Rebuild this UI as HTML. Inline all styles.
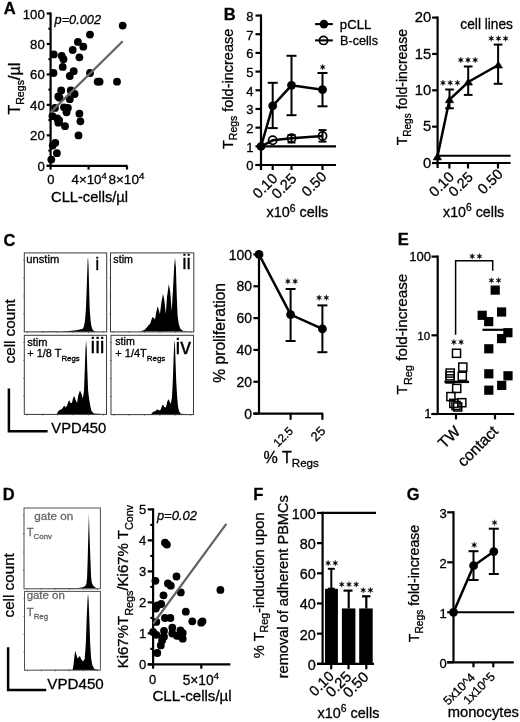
<!DOCTYPE html>
<html><head><meta charset="utf-8"><style>
html,body{margin:0;padding:0;background:#fff;width:520px;height:722px;overflow:hidden}
svg{display:block;will-change:transform}
text{font-family:"Liberation Sans",sans-serif}
</style></head><body>
<svg width="520" height="722" viewBox="0 0 520 722">
<line x1="50.60" y1="12.40" x2="50.60" y2="169.60" stroke="#000" stroke-width="2.2" />
<line x1="46.70" y1="165.80" x2="127.50" y2="165.80" stroke="#000" stroke-width="2.2" />
<line x1="46.70" y1="165.80" x2="50.60" y2="165.80" stroke="#000" stroke-width="2.2" />
<text id="A_y0" font-size="13.209" text-anchor="end" stroke="#000" stroke-width="0.3" transform="translate(44.79,170.80)">0</text>
<line x1="46.70" y1="135.34" x2="50.60" y2="135.34" stroke="#000" stroke-width="2.2" />
<text id="A_y20" font-size="13.209" text-anchor="end" stroke="#000" stroke-width="0.3" transform="translate(44.79,140.34)">20</text>
<line x1="46.70" y1="104.88" x2="50.60" y2="104.88" stroke="#000" stroke-width="2.2" />
<text id="A_y40" font-size="13.209" text-anchor="end" stroke="#000" stroke-width="0.3" transform="translate(44.79,109.88)">40</text>
<line x1="46.70" y1="74.42" x2="50.60" y2="74.42" stroke="#000" stroke-width="2.2" />
<text id="A_y60" font-size="13.209" text-anchor="end" stroke="#000" stroke-width="0.3" transform="translate(44.79,79.42)">60</text>
<line x1="46.70" y1="43.96" x2="50.60" y2="43.96" stroke="#000" stroke-width="2.2" />
<text id="A_y80" font-size="13.209" text-anchor="end" stroke="#000" stroke-width="0.3" transform="translate(44.79,48.96)">80</text>
<line x1="46.70" y1="13.50" x2="50.60" y2="13.50" stroke="#000" stroke-width="2.2" />
<text id="A_y100" font-size="13.209" text-anchor="end" stroke="#000" stroke-width="0.3" transform="translate(44.79,18.50)">100</text>
<line x1="48.40" y1="150.57" x2="50.60" y2="150.57" stroke="#000" stroke-width="2.2" />
<line x1="48.40" y1="120.11" x2="50.60" y2="120.11" stroke="#000" stroke-width="2.2" />
<line x1="48.40" y1="89.65" x2="50.60" y2="89.65" stroke="#000" stroke-width="2.2" />
<line x1="48.40" y1="59.19" x2="50.60" y2="59.19" stroke="#000" stroke-width="2.2" />
<line x1="48.40" y1="28.73" x2="50.60" y2="28.73" stroke="#000" stroke-width="2.2" />
<line x1="88.60" y1="165.80" x2="88.60" y2="169.60" stroke="#000" stroke-width="2.2" />
<line x1="127.00" y1="165.80" x2="127.00" y2="169.60" stroke="#000" stroke-width="2.2" />
<text id="A_x0" font-size="13.000" text-anchor="middle" stroke="#000" stroke-width="0.3" transform="translate(50.90,183.70)">0</text>
<text id="A_x4" font-size="13.285" text-anchor="middle" stroke="#000" stroke-width="0.3" transform="translate(89.17,184.23)">4×10<tspan font-size="0.72em" dy="-0.528em">4</tspan></text>
<text id="A_x8" font-size="13.578" text-anchor="middle" stroke="#000" stroke-width="0.3" transform="translate(126.40,184.18)">8×10<tspan font-size="0.72em" dy="-0.528em">4</tspan></text>
<text id="A_xt" font-size="14.681" text-anchor="middle" stroke="#000" stroke-width="0.3" transform="translate(89.54,201.65)">CLL-cells/µl</text>
<text id="A_yt" font-size="16.066" text-anchor="middle" stroke="#000" stroke-width="0.3" transform="translate(19.60,88.70) rotate(-90)">T<tspan font-size="0.66em" dy="0.455em">Regs</tspan><tspan dy="-0.300em">/µl</tspan></text>
<text id="A_p" font-size="12.757" text-anchor="start" font-style="italic" stroke="#000" stroke-width="0.3" transform="translate(54.54,23.76)">p=0.002</text>
<circle cx="122.70" cy="25.60" r="3.9" fill="#000" stroke="none" stroke-width="0"/>
<circle cx="90.00" cy="34.60" r="3.9" fill="#000" stroke="none" stroke-width="0"/>
<circle cx="77.90" cy="41.90" r="3.9" fill="#000" stroke="none" stroke-width="0"/>
<circle cx="83.30" cy="46.70" r="3.9" fill="#000" stroke="none" stroke-width="0"/>
<circle cx="72.70" cy="50.00" r="3.9" fill="#000" stroke="none" stroke-width="0"/>
<circle cx="79.40" cy="57.30" r="3.9" fill="#000" stroke="none" stroke-width="0"/>
<circle cx="53.80" cy="54.40" r="3.9" fill="#000" stroke="none" stroke-width="0"/>
<circle cx="61.70" cy="55.80" r="3.9" fill="#000" stroke="none" stroke-width="0"/>
<circle cx="63.50" cy="59.20" r="3.9" fill="#000" stroke="none" stroke-width="0"/>
<circle cx="62.70" cy="66.90" r="3.9" fill="#000" stroke="none" stroke-width="0"/>
<circle cx="53.50" cy="73.00" r="3.9" fill="#000" stroke="none" stroke-width="0"/>
<circle cx="73.70" cy="71.20" r="3.9" fill="#000" stroke="none" stroke-width="0"/>
<circle cx="69.80" cy="76.00" r="3.9" fill="#000" stroke="none" stroke-width="0"/>
<circle cx="90.00" cy="73.00" r="3.9" fill="#000" stroke="none" stroke-width="0"/>
<circle cx="97.70" cy="81.70" r="3.9" fill="#000" stroke="none" stroke-width="0"/>
<circle cx="99.60" cy="81.70" r="3.9" fill="#000" stroke="none" stroke-width="0"/>
<circle cx="117.00" cy="81.70" r="3.9" fill="#000" stroke="none" stroke-width="0"/>
<circle cx="61.20" cy="90.50" r="3.9" fill="#000" stroke="none" stroke-width="0"/>
<circle cx="70.80" cy="90.50" r="3.9" fill="#000" stroke="none" stroke-width="0"/>
<circle cx="58.30" cy="96.50" r="3.9" fill="#000" stroke="none" stroke-width="0"/>
<circle cx="74.60" cy="94.00" r="3.9" fill="#000" stroke="none" stroke-width="0"/>
<circle cx="59.50" cy="97.70" r="3.9" fill="#000" stroke="none" stroke-width="0"/>
<circle cx="69.80" cy="99.20" r="3.9" fill="#000" stroke="none" stroke-width="0"/>
<circle cx="55.00" cy="107.90" r="3.9" fill="#000" stroke="none" stroke-width="0"/>
<circle cx="64.00" cy="107.30" r="3.9" fill="#000" stroke="none" stroke-width="0"/>
<circle cx="67.90" cy="107.90" r="3.9" fill="#000" stroke="none" stroke-width="0"/>
<circle cx="66.50" cy="112.30" r="3.9" fill="#000" stroke="none" stroke-width="0"/>
<circle cx="52.50" cy="116.20" r="3.9" fill="#000" stroke="none" stroke-width="0"/>
<circle cx="57.30" cy="118.50" r="3.9" fill="#000" stroke="none" stroke-width="0"/>
<circle cx="59.20" cy="120.40" r="3.9" fill="#000" stroke="none" stroke-width="0"/>
<circle cx="58.30" cy="122.70" r="3.9" fill="#000" stroke="none" stroke-width="0"/>
<circle cx="65.00" cy="126.20" r="3.9" fill="#000" stroke="none" stroke-width="0"/>
<circle cx="79.40" cy="113.70" r="3.9" fill="#000" stroke="none" stroke-width="0"/>
<circle cx="80.40" cy="121.30" r="3.9" fill="#000" stroke="none" stroke-width="0"/>
<circle cx="78.50" cy="135.40" r="3.9" fill="#000" stroke="none" stroke-width="0"/>
<circle cx="55.30" cy="142.80" r="3.9" fill="#000" stroke="none" stroke-width="0"/>
<circle cx="52.70" cy="145.60" r="3.9" fill="#000" stroke="none" stroke-width="0"/>
<circle cx="56.90" cy="153.20" r="3.9" fill="#000" stroke="none" stroke-width="0"/>
<circle cx="51.30" cy="159.60" r="3.9" fill="#000" stroke="none" stroke-width="0"/>
<line x1="50.60" y1="112.40" x2="122.70" y2="41.30" stroke="#636363" stroke-width="2.2" />
<text id="A_lab" font-size="16.500" text-anchor="start" font-weight="bold" stroke="#000" stroke-width="0.3" transform="translate(3.66,13.84)">A</text>
<line x1="261.00" y1="14.46" x2="261.00" y2="170.00" stroke="#000" stroke-width="2.2" />
<line x1="255.50" y1="165.00" x2="336.00" y2="165.00" stroke="#000" stroke-width="2.2" />
<line x1="255.50" y1="165.00" x2="261.00" y2="165.00" stroke="#000" stroke-width="2.2" />
<text id="B_y0" font-size="13.000" text-anchor="end" stroke="#000" stroke-width="0.3" transform="translate(253.60,170.35)">0</text>
<line x1="255.50" y1="146.32" x2="261.00" y2="146.32" stroke="#000" stroke-width="2.2" />
<text id="B_y1" font-size="13.000" text-anchor="end" stroke="#000" stroke-width="0.3" transform="translate(253.60,151.67)">1</text>
<line x1="255.50" y1="127.64" x2="261.00" y2="127.64" stroke="#000" stroke-width="2.2" />
<text id="B_y2" font-size="13.000" text-anchor="end" stroke="#000" stroke-width="0.3" transform="translate(253.60,132.99)">2</text>
<line x1="255.50" y1="108.96" x2="261.00" y2="108.96" stroke="#000" stroke-width="2.2" />
<text id="B_y3" font-size="13.000" text-anchor="end" stroke="#000" stroke-width="0.3" transform="translate(253.60,114.31)">3</text>
<line x1="255.50" y1="90.28" x2="261.00" y2="90.28" stroke="#000" stroke-width="2.2" />
<text id="B_y4" font-size="13.000" text-anchor="end" stroke="#000" stroke-width="0.3" transform="translate(253.60,95.63)">4</text>
<line x1="255.50" y1="71.60" x2="261.00" y2="71.60" stroke="#000" stroke-width="2.2" />
<text id="B_y5" font-size="13.000" text-anchor="end" stroke="#000" stroke-width="0.3" transform="translate(253.60,76.95)">5</text>
<line x1="255.50" y1="52.92" x2="261.00" y2="52.92" stroke="#000" stroke-width="2.2" />
<text id="B_y6" font-size="13.000" text-anchor="end" stroke="#000" stroke-width="0.3" transform="translate(253.60,58.27)">6</text>
<line x1="255.50" y1="34.24" x2="261.00" y2="34.24" stroke="#000" stroke-width="2.2" />
<text id="B_y7" font-size="13.000" text-anchor="end" stroke="#000" stroke-width="0.3" transform="translate(253.60,39.59)">7</text>
<line x1="255.50" y1="15.56" x2="261.00" y2="15.56" stroke="#000" stroke-width="2.2" />
<text id="B_y8" font-size="13.000" text-anchor="end" stroke="#000" stroke-width="0.3" transform="translate(253.60,20.91)">8</text>
<line x1="272.70" y1="165.00" x2="272.70" y2="170.00" stroke="#000" stroke-width="2.2" />
<line x1="291.50" y1="165.00" x2="291.50" y2="170.00" stroke="#000" stroke-width="2.2" />
<line x1="322.50" y1="165.00" x2="322.50" y2="170.00" stroke="#000" stroke-width="2.2" />
<line x1="261.00" y1="146.32" x2="336.00" y2="146.32" stroke="#000" stroke-width="2.2" />
<text id="B_x0" font-size="14.470" text-anchor="end" stroke="#000" stroke-width="0.3" transform="translate(278.43,179.37) rotate(-45)">0.10</text>
<text id="B_x1" font-size="14.558" text-anchor="end" stroke="#000" stroke-width="0.3" transform="translate(297.44,179.62) rotate(-45)">0.25</text>
<text id="B_x2" font-size="14.500" text-anchor="end" stroke="#000" stroke-width="0.3" transform="translate(327.52,177.58) rotate(-45)">0.50</text>
<text id="B_xt" font-size="14.428" text-anchor="middle" stroke="#000" stroke-width="0.3" transform="translate(297.39,217.47)">x10<tspan font-size="0.72em" dy="-0.528em">6</tspan><tspan dy="0.38em"> cells</tspan></text>
<text id="B_yt" font-size="14.512" text-anchor="middle" stroke="#000" stroke-width="0.3" transform="translate(232.61,88.85) rotate(-90)">T<tspan font-size="0.72em" dy="0.417em">Regs</tspan><tspan dy="-0.300em"> fold-increase</tspan></text>
<line x1="272.70" y1="82.80" x2="272.70" y2="128.10" stroke="#000" stroke-width="2.0" />
<line x1="267.70" y1="82.80" x2="277.70" y2="82.80" stroke="#000" stroke-width="2.0" />
<line x1="267.70" y1="128.10" x2="277.70" y2="128.10" stroke="#000" stroke-width="2.0" />
<line x1="291.50" y1="55.80" x2="291.50" y2="115.20" stroke="#000" stroke-width="2.0" />
<line x1="286.50" y1="55.80" x2="296.50" y2="55.80" stroke="#000" stroke-width="2.0" />
<line x1="286.50" y1="115.20" x2="296.50" y2="115.20" stroke="#000" stroke-width="2.0" />
<line x1="322.50" y1="73.00" x2="322.50" y2="106.30" stroke="#000" stroke-width="2.0" />
<line x1="317.50" y1="73.00" x2="327.50" y2="73.00" stroke="#000" stroke-width="2.0" />
<line x1="317.50" y1="106.30" x2="327.50" y2="106.30" stroke="#000" stroke-width="2.0" />
<line x1="291.50" y1="135.00" x2="291.50" y2="142.50" stroke="#000" stroke-width="2.0" />
<line x1="287.50" y1="135.00" x2="295.50" y2="135.00" stroke="#000" stroke-width="2.0" />
<line x1="287.50" y1="142.50" x2="295.50" y2="142.50" stroke="#000" stroke-width="2.0" />
<line x1="322.50" y1="130.10" x2="322.50" y2="141.60" stroke="#000" stroke-width="2.0" />
<line x1="318.50" y1="130.10" x2="326.50" y2="130.10" stroke="#000" stroke-width="2.0" />
<line x1="318.50" y1="141.60" x2="326.50" y2="141.60" stroke="#000" stroke-width="2.0" />
<polyline points="261.00,146.50 272.70,140.30 291.50,138.30 322.50,136.00" stroke="#000" stroke-width="2.5" fill="none" stroke-linejoin="miter" />
<polyline points="261.00,146.50 272.70,105.80 291.50,85.30 322.50,89.70" stroke="#000" stroke-width="2.5" fill="none" stroke-linejoin="miter" />
<circle cx="272.70" cy="140.30" r="4.1" fill="none" stroke="#000" stroke-width="1.7"/>
<circle cx="291.50" cy="138.30" r="4.1" fill="none" stroke="#000" stroke-width="1.7"/>
<circle cx="322.50" cy="136.00" r="4.1" fill="none" stroke="#000" stroke-width="1.7"/>
<circle cx="261.00" cy="146.50" r="4.4" fill="#000" stroke="none" stroke-width="0"/>
<circle cx="272.70" cy="105.80" r="4.4" fill="#000" stroke="none" stroke-width="0"/>
<circle cx="291.50" cy="85.30" r="4.4" fill="#000" stroke="none" stroke-width="0"/>
<circle cx="322.50" cy="89.70" r="4.4" fill="#000" stroke="none" stroke-width="0"/>
<path d="M322.70,64.15 L323.22,66.19 L325.25,65.62 L323.75,67.10 L325.25,68.57 L323.22,68.01 L322.70,70.05 L322.18,68.01 L320.15,68.57 L321.65,67.10 L320.15,65.62 L322.18,66.19Z" fill="#000" stroke="#000" stroke-width="0.35" stroke-linejoin="round"/>
<line x1="315.10" y1="24.10" x2="332.80" y2="24.10" stroke="#000" stroke-width="2.1" />
<circle cx="323.90" cy="24.10" r="4.3" fill="#000" stroke="none" stroke-width="0"/>
<line x1="315.10" y1="40.40" x2="332.80" y2="40.40" stroke="#000" stroke-width="2.1" />
<circle cx="323.50" cy="40.40" r="4.1" fill="none" stroke="#000" stroke-width="1.7"/>
<text id="B_l1" font-size="13.118" text-anchor="start" stroke="#000" stroke-width="0.3" transform="translate(339.87,28.76)">pCLL</text>
<text id="B_l2" font-size="12.706" text-anchor="start" stroke="#000" stroke-width="0.3" transform="translate(339.94,45.19)">B-cells</text>
<text id="B_lab" font-size="16.500" text-anchor="start" font-weight="bold" stroke="#000" stroke-width="0.3" transform="translate(223.83,20.10)">B</text>
<line x1="437.60" y1="16.50" x2="437.60" y2="168.00" stroke="#000" stroke-width="2.2" />
<line x1="432.10" y1="163.00" x2="510.60" y2="163.00" stroke="#000" stroke-width="2.2" />
<line x1="432.10" y1="163.00" x2="437.60" y2="163.00" stroke="#000" stroke-width="2.2" />
<text id="B2_y0" font-size="14.771" text-anchor="end" stroke="#000" stroke-width="0.3" transform="translate(431.14,167.75)">0</text>
<line x1="432.10" y1="126.65" x2="437.60" y2="126.65" stroke="#000" stroke-width="2.2" />
<text id="B2_y5" font-size="14.771" text-anchor="end" stroke="#000" stroke-width="0.3" transform="translate(431.14,131.40)">5</text>
<line x1="432.10" y1="90.30" x2="437.60" y2="90.30" stroke="#000" stroke-width="2.2" />
<text id="B2_y10" font-size="14.771" text-anchor="end" stroke="#000" stroke-width="0.3" transform="translate(431.14,95.05)">10</text>
<line x1="432.10" y1="53.95" x2="437.60" y2="53.95" stroke="#000" stroke-width="2.2" />
<text id="B2_y15" font-size="14.771" text-anchor="end" stroke="#000" stroke-width="0.3" transform="translate(431.14,58.70)">15</text>
<line x1="432.10" y1="17.60" x2="437.60" y2="17.60" stroke="#000" stroke-width="2.2" />
<text id="B2_y20" font-size="14.771" text-anchor="end" stroke="#000" stroke-width="0.3" transform="translate(431.14,22.35)">20</text>
<line x1="449.40" y1="163.00" x2="449.40" y2="168.50" stroke="#000" stroke-width="2.2" />
<line x1="468.00" y1="163.00" x2="468.00" y2="168.50" stroke="#000" stroke-width="2.2" />
<line x1="498.00" y1="163.00" x2="498.00" y2="168.50" stroke="#000" stroke-width="2.2" />
<line x1="437.60" y1="155.73" x2="510.60" y2="155.73" stroke="#000" stroke-width="2.2" />
<text id="B2_x0" font-size="14.593" text-anchor="end" stroke="#000" stroke-width="0.3" transform="translate(455.04,177.73) rotate(-45)">0.10</text>
<text id="B2_x1" font-size="14.191" text-anchor="end" stroke="#000" stroke-width="0.3" transform="translate(473.83,178.03) rotate(-45)">0.25</text>
<text id="B2_x2" font-size="14.628" text-anchor="end" stroke="#000" stroke-width="0.3" transform="translate(503.67,174.99) rotate(-45)">0.50</text>
<text id="B2_xt" font-size="14.265" text-anchor="middle" stroke="#000" stroke-width="0.3" transform="translate(473.65,216.72)">x10<tspan font-size="0.72em" dy="-0.528em">6</tspan><tspan dy="0.38em"> cells</tspan></text>
<text id="B2_yt" font-size="14.034" text-anchor="middle" stroke="#000" stroke-width="0.3" transform="translate(406.55,87.20) rotate(-90)">T<tspan font-size="0.72em" dy="0.417em">Regs</tspan><tspan dy="-0.300em"> fold-increase</tspan></text>
<line x1="449.50" y1="89.50" x2="449.50" y2="108.30" stroke="#000" stroke-width="2.0" />
<line x1="445.15" y1="89.50" x2="453.85" y2="89.50" stroke="#000" stroke-width="2.0" />
<line x1="445.15" y1="108.30" x2="453.85" y2="108.30" stroke="#000" stroke-width="2.0" />
<line x1="468.20" y1="66.50" x2="468.20" y2="94.90" stroke="#000" stroke-width="2.0" />
<line x1="463.85" y1="66.50" x2="472.55" y2="66.50" stroke="#000" stroke-width="2.0" />
<line x1="463.85" y1="94.90" x2="472.55" y2="94.90" stroke="#000" stroke-width="2.0" />
<line x1="498.10" y1="44.60" x2="498.10" y2="83.80" stroke="#000" stroke-width="2.0" />
<line x1="493.75" y1="44.60" x2="502.45" y2="44.60" stroke="#000" stroke-width="2.0" />
<line x1="493.75" y1="83.80" x2="502.45" y2="83.80" stroke="#000" stroke-width="2.0" />
<polyline points="437.40,156.80 449.50,99.60 468.30,82.00 498.30,65.00" stroke="#000" stroke-width="2.5" fill="none" stroke-linejoin="miter" />
<polygon points="437.40,153.00 433.20,159.90 441.60,159.90" fill="#000" stroke="#000" stroke-width="0.6" stroke-linejoin="miter"/>
<polygon points="449.50,95.80 445.30,102.70 453.70,102.70" fill="#000" stroke="#000" stroke-width="0.6" stroke-linejoin="miter"/>
<polygon points="468.30,78.20 464.10,85.10 472.50,85.10" fill="#000" stroke="#000" stroke-width="0.6" stroke-linejoin="miter"/>
<polygon points="498.30,61.20 494.10,68.10 502.50,68.10" fill="#000" stroke="#000" stroke-width="0.6" stroke-linejoin="miter"/>
<path d="M443.00,79.85 L443.52,81.89 L445.55,81.33 L444.05,82.80 L445.55,84.27 L443.52,83.71 L443.00,85.75 L442.48,83.71 L440.45,84.27 L441.95,82.80 L440.45,81.33 L442.48,81.89ZM450.20,79.85 L450.72,81.89 L452.75,81.33 L451.25,82.80 L452.75,84.27 L450.72,83.71 L450.20,85.75 L449.68,83.71 L447.65,84.27 L449.15,82.80 L447.65,81.33 L449.68,81.89ZM457.40,79.85 L457.92,81.89 L459.95,81.33 L458.45,82.80 L459.95,84.27 L457.92,83.71 L457.40,85.75 L456.88,83.71 L454.85,84.27 L456.35,82.80 L454.85,81.33 L456.88,81.89Z" fill="#000" stroke="#000" stroke-width="0.35" stroke-linejoin="round"/>
<path d="M460.80,57.05 L461.32,59.09 L463.35,58.52 L461.85,60.00 L463.35,61.48 L461.32,60.91 L460.80,62.95 L460.28,60.91 L458.25,61.48 L459.75,60.00 L458.25,58.52 L460.28,59.09ZM468.00,57.05 L468.52,59.09 L470.55,58.52 L469.05,60.00 L470.55,61.48 L468.52,60.91 L468.00,62.95 L467.48,60.91 L465.45,61.48 L466.95,60.00 L465.45,58.52 L467.48,59.09ZM475.20,57.05 L475.72,59.09 L477.75,58.52 L476.25,60.00 L477.75,61.48 L475.72,60.91 L475.20,62.95 L474.68,60.91 L472.65,61.48 L474.15,60.00 L472.65,58.52 L474.68,59.09Z" fill="#000" stroke="#000" stroke-width="0.35" stroke-linejoin="round"/>
<path d="M491.20,35.55 L491.72,37.59 L493.75,37.02 L492.25,38.50 L493.75,39.98 L491.72,39.41 L491.20,41.45 L490.68,39.41 L488.65,39.98 L490.15,38.50 L488.65,37.02 L490.68,37.59ZM498.40,35.55 L498.92,37.59 L500.95,37.02 L499.45,38.50 L500.95,39.98 L498.92,39.41 L498.40,41.45 L497.88,39.41 L495.85,39.98 L497.35,38.50 L495.85,37.02 L497.88,37.59ZM505.60,35.55 L506.12,37.59 L508.15,37.02 L506.65,38.50 L508.15,39.98 L506.12,39.41 L505.60,41.45 L505.07,39.41 L503.05,39.98 L504.55,38.50 L503.05,37.02 L505.07,37.59Z" fill="#000" stroke="#000" stroke-width="0.35" stroke-linejoin="round"/>
<text id="B2_cl" font-size="13.710" text-anchor="start" stroke="#000" stroke-width="0.3" transform="translate(460.36,28.99)">cell lines</text>
<text id="C_lab" font-size="16.500" text-anchor="start" font-weight="bold" stroke="#000" stroke-width="0.3" transform="translate(3.46,246.16)">C</text>
<line x1="23.10" y1="313.95" x2="24.90" y2="313.95" stroke="#777" stroke-width="0.8" />
<line x1="23.10" y1="295.99" x2="24.90" y2="295.99" stroke="#777" stroke-width="0.8" />
<line x1="23.10" y1="278.04" x2="24.90" y2="278.04" stroke="#777" stroke-width="0.8" />
<line x1="23.10" y1="260.08" x2="24.90" y2="260.08" stroke="#777" stroke-width="0.8" />
<line x1="27.30" y1="331.40" x2="27.30" y2="333.10" stroke="#777" stroke-width="0.8" />
<line x1="42.58" y1="331.40" x2="42.58" y2="333.10" stroke="#777" stroke-width="0.8" />
<line x1="57.86" y1="331.40" x2="57.86" y2="333.10" stroke="#777" stroke-width="0.8" />
<line x1="73.14" y1="331.40" x2="73.14" y2="333.10" stroke="#777" stroke-width="0.8" />
<line x1="88.42" y1="331.40" x2="88.42" y2="333.10" stroke="#777" stroke-width="0.8" />
<line x1="103.70" y1="331.40" x2="103.70" y2="333.10" stroke="#777" stroke-width="0.8" />
<line x1="109.30" y1="313.95" x2="111.10" y2="313.95" stroke="#777" stroke-width="0.8" />
<line x1="109.30" y1="295.99" x2="111.10" y2="295.99" stroke="#777" stroke-width="0.8" />
<line x1="109.30" y1="278.04" x2="111.10" y2="278.04" stroke="#777" stroke-width="0.8" />
<line x1="109.30" y1="260.08" x2="111.10" y2="260.08" stroke="#777" stroke-width="0.8" />
<line x1="113.50" y1="331.40" x2="113.50" y2="333.10" stroke="#777" stroke-width="0.8" />
<line x1="128.96" y1="331.40" x2="128.96" y2="333.10" stroke="#777" stroke-width="0.8" />
<line x1="144.42" y1="331.40" x2="144.42" y2="333.10" stroke="#777" stroke-width="0.8" />
<line x1="159.88" y1="331.40" x2="159.88" y2="333.10" stroke="#777" stroke-width="0.8" />
<line x1="175.34" y1="331.40" x2="175.34" y2="333.10" stroke="#777" stroke-width="0.8" />
<line x1="190.80" y1="331.40" x2="190.80" y2="333.10" stroke="#777" stroke-width="0.8" />
<line x1="23.10" y1="396.42" x2="24.90" y2="396.42" stroke="#777" stroke-width="0.8" />
<line x1="23.10" y1="378.45" x2="24.90" y2="378.45" stroke="#777" stroke-width="0.8" />
<line x1="23.10" y1="360.47" x2="24.90" y2="360.47" stroke="#777" stroke-width="0.8" />
<line x1="23.10" y1="342.49" x2="24.90" y2="342.49" stroke="#777" stroke-width="0.8" />
<line x1="27.30" y1="413.90" x2="27.30" y2="415.60" stroke="#777" stroke-width="0.8" />
<line x1="42.54" y1="413.90" x2="42.54" y2="415.60" stroke="#777" stroke-width="0.8" />
<line x1="57.78" y1="413.90" x2="57.78" y2="415.60" stroke="#777" stroke-width="0.8" />
<line x1="73.02" y1="413.90" x2="73.02" y2="415.60" stroke="#777" stroke-width="0.8" />
<line x1="88.26" y1="413.90" x2="88.26" y2="415.60" stroke="#777" stroke-width="0.8" />
<line x1="103.50" y1="413.90" x2="103.50" y2="415.60" stroke="#777" stroke-width="0.8" />
<line x1="109.80" y1="396.58" x2="111.60" y2="396.58" stroke="#777" stroke-width="0.8" />
<line x1="109.80" y1="378.55" x2="111.60" y2="378.55" stroke="#777" stroke-width="0.8" />
<line x1="109.80" y1="360.53" x2="111.60" y2="360.53" stroke="#777" stroke-width="0.8" />
<line x1="109.80" y1="342.51" x2="111.60" y2="342.51" stroke="#777" stroke-width="0.8" />
<line x1="114.00" y1="414.10" x2="114.00" y2="415.80" stroke="#777" stroke-width="0.8" />
<line x1="129.30" y1="414.10" x2="129.30" y2="415.80" stroke="#777" stroke-width="0.8" />
<line x1="144.60" y1="414.10" x2="144.60" y2="415.80" stroke="#777" stroke-width="0.8" />
<line x1="159.90" y1="414.10" x2="159.90" y2="415.80" stroke="#777" stroke-width="0.8" />
<line x1="175.20" y1="414.10" x2="175.20" y2="415.80" stroke="#777" stroke-width="0.8" />
<line x1="190.50" y1="414.10" x2="190.50" y2="415.80" stroke="#777" stroke-width="0.8" />
<path d="M24.8,331.6 L55.0,331.9 L66.8,331.3 L76.2,330.3 L79.7,329.5 L82.7,328.7 L83.9,326.6 L85.0,320.7 L85.9,308.9 L86.6,291.2 L87.2,273.6 L87.7,258.8 L88.1,257.7 L88.6,267.7 L89.2,291.2 L89.7,308.9 L90.6,320.7 L91.5,326.6 L92.7,330.1 L95.0,331.6 L98.0,331.8 Z" fill="#000"/>
<path d="M111.0,331.6 L139.7,331.4 L144.4,330.0 L146.8,327.6 L148.5,325.3 L150.3,323.5 L151.5,319.4 L152.6,317.1 L154.2,318.2 L155.0,319.4 L156.2,312.4 L157.6,306.2 L159.1,311.2 L159.9,314.1 L161.5,301.8 L163.0,293.8 L164.4,300.6 L165.8,314.1 L167.0,297.1 L168.8,284.1 L170.3,292.4 L171.7,311.2 L172.9,291.2 L174.1,267.6 L175.0,257.6 L175.9,267.6 L176.8,297.1 L177.6,315.9 L178.8,324.1 L180.3,328.8 L183.2,330.9 L192.0,331.6 Z" fill="#000"/>
<path d="M24.8,414.2 L56.9,414.0 L58.3,411.1 L60.4,409.7 L62.1,408.8 L63.3,407.1 L64.1,405.6 L65.6,407.4 L67.1,405.4 L68.2,401.9 L69.3,400.2 L70.5,403.0 L71.9,403.0 L73.1,397.9 L74.2,395.9 L75.4,399.6 L77.1,403.0 L78.3,395.0 L80.0,390.4 L81.4,393.8 L82.9,398.4 L84.0,390.4 L84.8,369.6 L85.5,348.8 L86.1,340.8 L86.7,348.8 L87.3,369.6 L88.1,390.4 L89.2,399.6 L90.4,406.5 L91.5,411.1 L93.8,413.4 L105.4,414.2 Z" fill="#000"/>
<path d="M111.5,414.4 L150.9,414.4 L152.1,412.7 L153.8,411.5 L155.5,411.0 L157.5,409.2 L159.0,410.4 L160.7,409.8 L162.1,405.8 L163.0,404.6 L164.2,406.9 L165.9,407.5 L167.4,401.2 L168.5,399.2 L169.7,401.7 L170.8,404.0 L172.0,397.1 L172.8,381.0 L173.6,358.0 L174.2,344.2 L174.5,340.2 L174.9,344.2 L175.4,358.0 L176.2,381.0 L177.1,396.0 L178.0,406.3 L179.1,411.5 L180.9,413.8 L192.5,414.4 Z" fill="#000"/>
<rect x="24.30" y="252.90" width="82.40" height="79.00" fill="none" stroke="#3a3a3a" stroke-width="1.0"/>
<rect x="110.50" y="252.90" width="83.30" height="79.00" fill="none" stroke="#3a3a3a" stroke-width="1.0"/>
<rect x="24.30" y="335.30" width="82.20" height="79.10" fill="none" stroke="#3a3a3a" stroke-width="1.0"/>
<rect x="111.00" y="335.30" width="82.50" height="79.30" fill="none" stroke="#3a3a3a" stroke-width="1.0"/>
<text id="C_t1" font-size="11.235" text-anchor="start" stroke="#000" stroke-width="0.3" transform="translate(26.20,262.63)">unstim</text>
<text id="C_t2" font-size="10.695" text-anchor="start" stroke="#000" stroke-width="0.3" transform="translate(113.35,263.15)">stim</text>
<text id="C_t3" font-size="11.148" text-anchor="start" stroke="#000" stroke-width="0.3" transform="translate(27.19,345.79)">stim</text>
<text id="C_t3b" font-size="10.932" text-anchor="start" stroke="#000" stroke-width="0.3" transform="translate(27.28,356.75)">+ 1/8 T<tspan font-size="0.72em" dy="0.583em">Regs</tspan></text>
<text id="C_t4" font-size="10.664" text-anchor="start" stroke="#000" stroke-width="0.3" transform="translate(115.25,345.11)">stim</text>
<text id="C_t4b" font-size="11.023" text-anchor="start" stroke="#000" stroke-width="0.3" transform="translate(115.26,356.63)">+ 1/4T<tspan font-size="0.72em" dy="0.583em">Regs</tspan></text>
<text id="C_r1" font-size="18.000" text-anchor="middle" stroke="#000" stroke-width="0.3" transform="translate(97.15,269.50)">i</text>
<text id="C_r2" font-size="19.575" text-anchor="middle" stroke="#000" stroke-width="0.3" transform="translate(186.53,269.30)">ii</text>
<text id="C_r3" font-size="21.326" text-anchor="middle" stroke="#000" stroke-width="0.3" transform="translate(97.50,353.16)">iii</text>
<text id="C_r4" font-size="21.638" text-anchor="middle" stroke="#000" stroke-width="0.3" transform="translate(183.26,353.64)">iv</text>
<text id="C_cc" font-size="15.218" text-anchor="middle" stroke="#000" stroke-width="0.3" transform="translate(15.25,331.31) rotate(-90)">cell count</text>
<polyline points="8.90,388.40 8.90,431.20 47.60,431.20" stroke="#000" stroke-width="2.5" fill="none" stroke-linejoin="miter" />
<text id="C_vpd" font-size="14.774" text-anchor="start" stroke="#000" stroke-width="0.3" transform="translate(51.30,432.79)">VPD450</text>
<line x1="259.00" y1="253.35" x2="259.00" y2="413.60" stroke="#000" stroke-width="2.2" />
<line x1="253.40" y1="413.60" x2="323.20" y2="413.60" stroke="#000" stroke-width="2.2" />
<line x1="253.40" y1="413.60" x2="259.00" y2="413.60" stroke="#000" stroke-width="2.2" />
<text id="C_y0" font-size="13.937" text-anchor="end" stroke="#000" stroke-width="0.3" transform="translate(252.02,418.76)">0</text>
<line x1="253.40" y1="381.77" x2="259.00" y2="381.77" stroke="#000" stroke-width="2.2" />
<text id="C_y20" font-size="13.937" text-anchor="end" stroke="#000" stroke-width="0.3" transform="translate(252.02,386.93)">20</text>
<line x1="253.40" y1="349.94" x2="259.00" y2="349.94" stroke="#000" stroke-width="2.2" />
<text id="C_y40" font-size="13.937" text-anchor="end" stroke="#000" stroke-width="0.3" transform="translate(252.02,355.10)">40</text>
<line x1="253.40" y1="318.11" x2="259.00" y2="318.11" stroke="#000" stroke-width="2.2" />
<text id="C_y60" font-size="13.937" text-anchor="end" stroke="#000" stroke-width="0.3" transform="translate(252.02,323.27)">60</text>
<line x1="253.40" y1="286.28" x2="259.00" y2="286.28" stroke="#000" stroke-width="2.2" />
<text id="C_y80" font-size="13.937" text-anchor="end" stroke="#000" stroke-width="0.3" transform="translate(252.02,291.44)">80</text>
<line x1="253.40" y1="254.45" x2="259.00" y2="254.45" stroke="#000" stroke-width="2.2" />
<text id="C_y100" font-size="13.937" text-anchor="end" stroke="#000" stroke-width="0.3" transform="translate(252.02,259.61)">100</text>
<line x1="290.60" y1="413.60" x2="290.60" y2="419.80" stroke="#000" stroke-width="2.2" />
<line x1="322.40" y1="413.60" x2="322.40" y2="419.80" stroke="#000" stroke-width="2.2" />
<text id="C_x1" font-size="11.462" text-anchor="end" stroke="#000" stroke-width="0.3" transform="translate(293.81,431.83) rotate(-45)">12.5</text>
<text id="C_x2" font-size="12.907" text-anchor="end" stroke="#000" stroke-width="0.3" transform="translate(326.24,431.79) rotate(-45)">25</text>
<text id="C_xt" font-size="16.080" text-anchor="start" stroke="#000" stroke-width="0.3" transform="translate(263.54,462.56)">% T<tspan font-size="0.72em" dy="0.417em">Regs</tspan></text>
<text id="C_yt" font-size="15.609" text-anchor="middle" stroke="#000" stroke-width="0.3" transform="translate(225.35,332.80) rotate(-90)">% proliferation</text>
<line x1="290.60" y1="289.00" x2="290.60" y2="341.00" stroke="#000" stroke-width="2.0" />
<line x1="285.60" y1="289.00" x2="295.60" y2="289.00" stroke="#000" stroke-width="2.0" />
<line x1="285.60" y1="341.00" x2="295.60" y2="341.00" stroke="#000" stroke-width="2.0" />
<line x1="322.40" y1="305.40" x2="322.40" y2="352.20" stroke="#000" stroke-width="2.0" />
<line x1="317.40" y1="305.40" x2="327.40" y2="305.40" stroke="#000" stroke-width="2.0" />
<line x1="317.40" y1="352.20" x2="327.40" y2="352.20" stroke="#000" stroke-width="2.0" />
<polyline points="259.00,254.40 290.60,314.60 322.40,328.90" stroke="#000" stroke-width="2.5" fill="none" stroke-linejoin="miter" />
<circle cx="259.00" cy="254.40" r="4.4" fill="#000" stroke="none" stroke-width="0"/>
<circle cx="290.60" cy="314.60" r="4.4" fill="#000" stroke="none" stroke-width="0"/>
<circle cx="322.40" cy="328.90" r="4.4" fill="#000" stroke="none" stroke-width="0"/>
<path d="M287.90,278.35 L288.42,280.39 L290.45,279.82 L288.95,281.30 L290.45,282.78 L288.42,282.21 L287.90,284.25 L287.38,282.21 L285.35,282.78 L286.85,281.30 L285.35,279.82 L287.38,280.39ZM295.10,278.35 L295.62,280.39 L297.65,279.82 L296.15,281.30 L297.65,282.78 L295.62,282.21 L295.10,284.25 L294.58,282.21 L292.55,282.78 L294.05,281.30 L292.55,279.82 L294.58,280.39Z" fill="#000" stroke="#000" stroke-width="0.35" stroke-linejoin="round"/>
<path d="M319.10,294.75 L319.62,296.79 L321.65,296.22 L320.15,297.70 L321.65,299.18 L319.62,298.61 L319.10,300.65 L318.57,298.61 L316.55,299.18 L318.05,297.70 L316.55,296.22 L318.57,296.79ZM326.30,294.75 L326.82,296.79 L328.85,296.22 L327.35,297.70 L328.85,299.18 L326.82,298.61 L326.30,300.65 L325.78,298.61 L323.75,299.18 L325.25,297.70 L323.75,296.22 L325.78,296.79Z" fill="#000" stroke="#000" stroke-width="0.35" stroke-linejoin="round"/>
<line x1="437.70" y1="255.50" x2="437.70" y2="414.00" stroke="#000" stroke-width="2.2" />
<line x1="431.50" y1="414.00" x2="514.20" y2="414.00" stroke="#000" stroke-width="2.2" />
<line x1="431.50" y1="414.00" x2="437.70" y2="414.00" stroke="#000" stroke-width="2.2" />
<line x1="431.50" y1="335.30" x2="437.70" y2="335.30" stroke="#000" stroke-width="2.2" />
<line x1="431.50" y1="256.60" x2="437.70" y2="256.60" stroke="#000" stroke-width="2.2" />
<text id="E_y100" font-size="13.058" text-anchor="end" stroke="#000" stroke-width="0.3" transform="translate(431.14,261.07)">100</text>
<text id="E_y10" font-size="11.604" text-anchor="end" stroke="#000" stroke-width="0.3" transform="translate(430.12,339.65)">10</text>
<text id="E_y1" font-size="13.000" text-anchor="end" stroke="#000" stroke-width="0.3" transform="translate(431.51,417.95)">1</text>
<line x1="456.00" y1="414.00" x2="456.00" y2="419.40" stroke="#000" stroke-width="2.2" />
<line x1="495.00" y1="414.00" x2="495.00" y2="419.40" stroke="#000" stroke-width="2.2" />
<text id="E_x1" font-size="15.333" text-anchor="end" stroke="#000" stroke-width="0.3" transform="translate(461.19,432.42) rotate(-45)">TW</text>
<text id="E_x2" font-size="15.511" text-anchor="end" stroke="#000" stroke-width="0.3" transform="translate(499.17,432.13) rotate(-45)">contact</text>
<text id="E_lab" font-size="16.500" text-anchor="start" font-weight="bold" stroke="#000" stroke-width="0.3" transform="translate(397.69,244.98)">E</text>
<text id="E_yt" font-size="15.220" text-anchor="middle" stroke="#000" stroke-width="0.3" transform="translate(407.33,334.05) rotate(-90)">T<tspan font-size="0.72em" dy="0.417em">Reg</tspan><tspan dy="-0.300em"> fold-increase</tspan></text>
<polyline points="455.60,334.80 455.60,260.80 492.70,260.80 492.70,270.80" stroke="#000" stroke-width="1.5" fill="none" stroke-linejoin="miter" />
<path d="M472.20,253.35 L472.72,255.39 L474.75,254.83 L473.25,256.30 L474.75,257.78 L472.72,257.21 L472.20,259.25 L471.68,257.21 L469.65,257.78 L471.15,256.30 L469.65,254.83 L471.68,255.39ZM479.40,253.35 L479.93,255.39 L481.95,254.83 L480.45,256.30 L481.95,257.78 L479.93,257.21 L479.40,259.25 L478.88,257.21 L476.85,257.78 L478.35,256.30 L476.85,254.83 L478.88,255.39Z" fill="#000" stroke="#000" stroke-width="0.35" stroke-linejoin="round"/>
<path d="M491.40,277.45 L491.92,279.49 L493.95,278.92 L492.45,280.40 L493.95,281.88 L491.92,281.31 L491.40,283.35 L490.88,281.31 L488.85,281.88 L490.35,280.40 L488.85,278.92 L490.88,279.49ZM498.60,277.45 L499.12,279.49 L501.15,278.92 L499.65,280.40 L501.15,281.88 L499.12,281.31 L498.60,283.35 L498.08,281.31 L496.05,281.88 L497.55,280.40 L496.05,278.92 L498.08,279.49Z" fill="#000" stroke="#000" stroke-width="0.35" stroke-linejoin="round"/>
<path d="M453.90,339.15 L454.42,341.19 L456.45,340.62 L454.95,342.10 L456.45,343.58 L454.42,343.01 L453.90,345.05 L453.38,343.01 L451.35,343.58 L452.85,342.10 L451.35,340.62 L453.38,341.19ZM461.10,339.15 L461.62,341.19 L463.65,340.62 L462.15,342.10 L463.65,343.58 L461.62,343.01 L461.10,345.05 L460.58,343.01 L458.55,343.58 L460.05,342.10 L458.55,340.62 L460.58,341.19Z" fill="#000" stroke="#000" stroke-width="0.35" stroke-linejoin="round"/>
<rect x="452.45" y="349.25" width="8.10" height="8.10" fill="none" stroke="#000" stroke-width="1.5"/>
<rect x="458.75" y="363.05" width="8.10" height="8.10" fill="none" stroke="#000" stroke-width="1.5"/>
<rect x="458.25" y="372.25" width="8.10" height="8.10" fill="none" stroke="#000" stroke-width="1.5"/>
<rect x="446.15" y="369.05" width="8.10" height="8.10" fill="none" stroke="#000" stroke-width="1.5"/>
<rect x="446.15" y="371.75" width="8.10" height="8.10" fill="none" stroke="#000" stroke-width="1.5"/>
<rect x="446.15" y="374.85" width="8.10" height="8.10" fill="none" stroke="#000" stroke-width="1.5"/>
<rect x="452.65" y="384.35" width="8.10" height="8.10" fill="none" stroke="#000" stroke-width="1.5"/>
<rect x="446.85" y="392.55" width="8.10" height="8.10" fill="none" stroke="#000" stroke-width="1.5"/>
<rect x="449.75" y="399.35" width="8.10" height="8.10" fill="none" stroke="#000" stroke-width="1.5"/>
<rect x="457.75" y="398.65" width="8.10" height="8.10" fill="none" stroke="#000" stroke-width="1.5"/>
<rect x="453.65" y="402.95" width="8.10" height="8.10" fill="none" stroke="#000" stroke-width="1.5"/>
<rect x="451.95" y="401.45" width="8.10" height="8.10" fill="none" stroke="#000" stroke-width="1.5"/>
<line x1="444.40" y1="381.90" x2="469.10" y2="381.90" stroke="#000" stroke-width="2.4" />
<rect x="490.60" y="285.50" width="9.2" height="9.2" fill="#000"/>
<rect x="497.00" y="307.40" width="9.2" height="9.2" fill="#000"/>
<rect x="477.60" y="310.70" width="9.2" height="9.2" fill="#000"/>
<rect x="484.10" y="317.00" width="9.2" height="9.2" fill="#000"/>
<rect x="503.30" y="328.10" width="9.2" height="9.2" fill="#000"/>
<rect x="497.00" y="334.00" width="9.2" height="9.2" fill="#000"/>
<rect x="484.20" y="344.20" width="9.2" height="9.2" fill="#000"/>
<rect x="484.20" y="369.20" width="9.2" height="9.2" fill="#000"/>
<rect x="503.40" y="371.20" width="9.2" height="9.2" fill="#000"/>
<rect x="497.10" y="380.80" width="9.2" height="9.2" fill="#000"/>
<rect x="484.20" y="385.60" width="9.2" height="9.2" fill="#000"/>
<line x1="482.50" y1="329.80" x2="504.60" y2="329.80" stroke="#000" stroke-width="2.2" />
<text id="D_lab" font-size="16.500" text-anchor="start" font-weight="bold" stroke="#000" stroke-width="0.3" transform="translate(2.74,500.43)">D</text>
<line x1="22.80" y1="570.44" x2="24.60" y2="570.44" stroke="#777" stroke-width="0.8" />
<line x1="22.80" y1="552.07" x2="24.60" y2="552.07" stroke="#777" stroke-width="0.8" />
<line x1="22.80" y1="533.71" x2="24.60" y2="533.71" stroke="#777" stroke-width="0.8" />
<line x1="22.80" y1="515.35" x2="24.60" y2="515.35" stroke="#777" stroke-width="0.8" />
<line x1="27.00" y1="588.30" x2="27.00" y2="590.00" stroke="#777" stroke-width="0.8" />
<line x1="41.08" y1="588.30" x2="41.08" y2="590.00" stroke="#777" stroke-width="0.8" />
<line x1="55.16" y1="588.30" x2="55.16" y2="590.00" stroke="#777" stroke-width="0.8" />
<line x1="69.24" y1="588.30" x2="69.24" y2="590.00" stroke="#777" stroke-width="0.8" />
<line x1="83.32" y1="588.30" x2="83.32" y2="590.00" stroke="#777" stroke-width="0.8" />
<line x1="97.40" y1="588.30" x2="97.40" y2="590.00" stroke="#777" stroke-width="0.8" />
<line x1="23.30" y1="652.29" x2="25.10" y2="652.29" stroke="#777" stroke-width="0.8" />
<line x1="23.30" y1="634.38" x2="25.10" y2="634.38" stroke="#777" stroke-width="0.8" />
<line x1="23.30" y1="616.47" x2="25.10" y2="616.47" stroke="#777" stroke-width="0.8" />
<line x1="23.30" y1="598.56" x2="25.10" y2="598.56" stroke="#777" stroke-width="0.8" />
<line x1="27.50" y1="669.70" x2="27.50" y2="671.40" stroke="#777" stroke-width="0.8" />
<line x1="41.48" y1="669.70" x2="41.48" y2="671.40" stroke="#777" stroke-width="0.8" />
<line x1="55.46" y1="669.70" x2="55.46" y2="671.40" stroke="#777" stroke-width="0.8" />
<line x1="69.44" y1="669.70" x2="69.44" y2="671.40" stroke="#777" stroke-width="0.8" />
<line x1="83.42" y1="669.70" x2="83.42" y2="671.40" stroke="#777" stroke-width="0.8" />
<line x1="97.40" y1="669.70" x2="97.40" y2="671.40" stroke="#777" stroke-width="0.8" />
<path d="M24.5,588.4 L72.0,588.1 L78.1,587.9 L82.9,587.2 L85.3,586.0 L86.5,583.3 L87.1,577.3 L87.7,559.2 L88.3,535.1 L88.9,513.4 L89.5,535.1 L90.4,559.2 L91.1,577.3 L91.9,583.3 L93.7,586.3 L96.1,587.9 L98.6,588.4 Z" fill="#000"/>
<path d="M25.0,669.9 L72.7,669.7 L73.5,665.1 L74.5,655.5 L75.4,650.7 L76.3,654.3 L77.5,658.5 L78.7,657.3 L79.9,656.1 L81.1,659.1 L82.9,661.5 L84.7,659.1 L85.9,642.2 L86.7,618.1 L87.5,600.0 L88.0,593.4 L88.6,600.0 L89.3,618.1 L90.1,642.2 L91.1,657.9 L92.3,665.1 L94.3,669.0 L99.5,669.9 Z" fill="#000"/>
<rect x="24.00" y="508.00" width="76.40" height="80.80" fill="none" stroke="#505050" stroke-width="1.0"/>
<rect x="24.50" y="591.40" width="75.90" height="78.80" fill="none" stroke="#505050" stroke-width="1.0"/>
<text id="D_g1" font-size="11.696" text-anchor="start" fill="#666" stroke="#666" stroke-width="0.3" transform="translate(34.30,519.84)">gate on</text>
<text id="D_t1" font-size="11.278" text-anchor="start" fill="#666" stroke="#666" stroke-width="0.3" transform="translate(26.67,536.41)">T<tspan font-size="0.7em" dy="0.286em">Conv</tspan></text>
<text id="D_g2" font-size="11.450" text-anchor="start" fill="#666" stroke="#666" stroke-width="0.3" transform="translate(26.65,598.59)">gate on</text>
<text id="D_t2" font-size="11.233" text-anchor="start" fill="#666" stroke="#666" stroke-width="0.3" transform="translate(26.78,616.32)">T<tspan font-size="0.7em" dy="0.286em">Reg</tspan></text>
<text id="D_cc" font-size="15.225" text-anchor="middle" stroke="#000" stroke-width="0.3" transform="translate(13.85,585.32) rotate(-90)">cell count</text>
<polyline points="8.10,647.20 8.10,690.00 46.20,690.00" stroke="#000" stroke-width="2.5" fill="none" stroke-linejoin="miter" />
<text id="D_vpd" font-size="15.189" text-anchor="start" stroke="#000" stroke-width="0.3" transform="translate(47.30,688.55)">VPD450</text>
<line x1="153.10" y1="508.30" x2="153.10" y2="668.70" stroke="#000" stroke-width="2.2" />
<line x1="147.70" y1="664.40" x2="230.40" y2="664.40" stroke="#000" stroke-width="2.2" />
<line x1="147.70" y1="664.40" x2="153.10" y2="664.40" stroke="#000" stroke-width="2.2" />
<text id="D_y0" font-size="13.000" text-anchor="end" stroke="#000" stroke-width="0.3" transform="translate(146.30,669.05)">0</text>
<line x1="147.70" y1="633.40" x2="153.10" y2="633.40" stroke="#000" stroke-width="2.2" />
<text id="D_y1" font-size="13.000" text-anchor="end" stroke="#000" stroke-width="0.3" transform="translate(146.30,638.05)">1</text>
<line x1="147.70" y1="602.40" x2="153.10" y2="602.40" stroke="#000" stroke-width="2.2" />
<text id="D_y2" font-size="13.000" text-anchor="end" stroke="#000" stroke-width="0.3" transform="translate(146.30,607.05)">2</text>
<line x1="147.70" y1="571.40" x2="153.10" y2="571.40" stroke="#000" stroke-width="2.2" />
<text id="D_y3" font-size="13.000" text-anchor="end" stroke="#000" stroke-width="0.3" transform="translate(146.30,576.05)">3</text>
<line x1="147.70" y1="540.40" x2="153.10" y2="540.40" stroke="#000" stroke-width="2.2" />
<text id="D_y4" font-size="13.000" text-anchor="end" stroke="#000" stroke-width="0.3" transform="translate(146.30,545.05)">4</text>
<line x1="147.70" y1="509.40" x2="153.10" y2="509.40" stroke="#000" stroke-width="2.2" />
<text id="D_y5" font-size="13.000" text-anchor="end" stroke="#000" stroke-width="0.3" transform="translate(146.30,514.05)">5</text>
<line x1="150.30" y1="648.90" x2="153.10" y2="648.90" stroke="#000" stroke-width="2.2" />
<line x1="150.30" y1="617.90" x2="153.10" y2="617.90" stroke="#000" stroke-width="2.2" />
<line x1="150.30" y1="586.90" x2="153.10" y2="586.90" stroke="#000" stroke-width="2.2" />
<line x1="150.30" y1="555.90" x2="153.10" y2="555.90" stroke="#000" stroke-width="2.2" />
<line x1="150.30" y1="524.90" x2="153.10" y2="524.90" stroke="#000" stroke-width="2.2" />
<line x1="201.30" y1="664.40" x2="201.30" y2="668.70" stroke="#000" stroke-width="2.2" />
<text id="D_x0" font-size="13.000" text-anchor="middle" stroke="#000" stroke-width="0.3" transform="translate(152.70,684.09)">0</text>
<text id="D_x5" font-size="13.738" text-anchor="middle" stroke="#000" stroke-width="0.3" transform="translate(200.88,684.61)">5×10<tspan font-size="0.72em" dy="-0.528em">4</tspan></text>
<text id="D_xt" font-size="15.113" text-anchor="middle" stroke="#000" stroke-width="0.3" transform="translate(192.05,700.79)">CLL-cells/µl</text>
<text id="D_yt" font-size="15.013" text-anchor="middle" stroke="#000" stroke-width="0.3" transform="translate(128.24,586.56) rotate(-90)">Ki67%T<tspan font-size="0.72em" dy="0.417em">Regs</tspan><tspan dy="-0.300em">/Ki67% T</tspan><tspan font-size="0.72em" dy="0.417em">Conv</tspan></text>
<text id="D_p" font-size="12.978" text-anchor="start" font-style="italic" stroke="#000" stroke-width="0.3" transform="translate(156.89,519.90)">p=0.02</text>
<circle cx="165.00" cy="542.70" r="3.9" fill="#000" stroke="none" stroke-width="0"/>
<circle cx="166.90" cy="544.60" r="3.9" fill="#000" stroke="none" stroke-width="0"/>
<circle cx="155.40" cy="580.80" r="3.9" fill="#000" stroke="none" stroke-width="0"/>
<circle cx="176.50" cy="576.50" r="3.9" fill="#000" stroke="none" stroke-width="0"/>
<circle cx="167.90" cy="583.50" r="3.9" fill="#000" stroke="none" stroke-width="0"/>
<circle cx="170.80" cy="585.70" r="3.9" fill="#000" stroke="none" stroke-width="0"/>
<circle cx="180.80" cy="592.40" r="3.9" fill="#000" stroke="none" stroke-width="0"/>
<circle cx="163.50" cy="595.30" r="3.9" fill="#000" stroke="none" stroke-width="0"/>
<circle cx="220.40" cy="589.90" r="3.9" fill="#000" stroke="none" stroke-width="0"/>
<circle cx="161.20" cy="604.00" r="3.9" fill="#000" stroke="none" stroke-width="0"/>
<circle cx="157.30" cy="605.40" r="3.9" fill="#000" stroke="none" stroke-width="0"/>
<circle cx="155.80" cy="608.50" r="3.9" fill="#000" stroke="none" stroke-width="0"/>
<circle cx="185.80" cy="611.70" r="3.9" fill="#000" stroke="none" stroke-width="0"/>
<circle cx="165.00" cy="618.00" r="3.9" fill="#000" stroke="none" stroke-width="0"/>
<circle cx="170.40" cy="618.00" r="3.9" fill="#000" stroke="none" stroke-width="0"/>
<circle cx="156.30" cy="621.90" r="3.9" fill="#000" stroke="none" stroke-width="0"/>
<circle cx="192.30" cy="621.30" r="3.9" fill="#000" stroke="none" stroke-width="0"/>
<circle cx="201.20" cy="622.70" r="3.9" fill="#000" stroke="none" stroke-width="0"/>
<circle cx="202.50" cy="621.30" r="3.9" fill="#000" stroke="none" stroke-width="0"/>
<circle cx="172.30" cy="627.70" r="3.9" fill="#000" stroke="none" stroke-width="0"/>
<circle cx="180.40" cy="630.40" r="3.9" fill="#000" stroke="none" stroke-width="0"/>
<circle cx="164.00" cy="631.00" r="3.9" fill="#000" stroke="none" stroke-width="0"/>
<circle cx="153.10" cy="632.00" r="3.9" fill="#000" stroke="none" stroke-width="0"/>
<circle cx="172.30" cy="633.50" r="3.9" fill="#000" stroke="none" stroke-width="0"/>
<circle cx="182.70" cy="632.90" r="3.9" fill="#000" stroke="none" stroke-width="0"/>
<circle cx="156.30" cy="634.80" r="3.9" fill="#000" stroke="none" stroke-width="0"/>
<circle cx="176.90" cy="635.80" r="3.9" fill="#000" stroke="none" stroke-width="0"/>
<circle cx="164.00" cy="636.70" r="3.9" fill="#000" stroke="none" stroke-width="0"/>
<circle cx="179.40" cy="635.80" r="3.9" fill="#000" stroke="none" stroke-width="0"/>
<circle cx="182.70" cy="638.70" r="3.9" fill="#000" stroke="none" stroke-width="0"/>
<circle cx="162.10" cy="640.60" r="3.9" fill="#000" stroke="none" stroke-width="0"/>
<circle cx="160.80" cy="645.40" r="3.9" fill="#000" stroke="none" stroke-width="0"/>
<circle cx="157.30" cy="653.00" r="3.9" fill="#000" stroke="none" stroke-width="0"/>
<circle cx="162.70" cy="637.70" r="3.9" fill="#000" stroke="none" stroke-width="0"/>
<line x1="153.30" y1="623.50" x2="226.30" y2="523.80" stroke="#636363" stroke-width="2.2" />
<text id="F_lab" font-size="16.500" text-anchor="start" font-weight="bold" stroke="#000" stroke-width="0.3" transform="translate(253.21,500.35)">F</text>
<rect x="325" y="588.83" width="12.90" height="74.97" fill="#000"/>
<rect x="341.9" y="608.44" width="13.50" height="55.36" fill="#000"/>
<rect x="359.2" y="608.44" width="13.50" height="55.36" fill="#000"/>
<line x1="322.60" y1="511.85" x2="322.60" y2="663.80" stroke="#000" stroke-width="2.2" />
<line x1="321.50" y1="512.95" x2="376.00" y2="512.95" stroke="#000" stroke-width="2.2" />
<line x1="317.00" y1="663.80" x2="374.00" y2="663.80" stroke="#000" stroke-width="2.2" />
<line x1="317.00" y1="663.80" x2="322.60" y2="663.80" stroke="#000" stroke-width="2.2" />
<text id="F_y0" font-size="14.455" text-anchor="end" stroke="#000" stroke-width="0.3" transform="translate(315.75,669.78)">0</text>
<line x1="317.00" y1="633.63" x2="322.60" y2="633.63" stroke="#000" stroke-width="2.2" />
<text id="F_y20" font-size="14.455" text-anchor="end" stroke="#000" stroke-width="0.3" transform="translate(315.75,639.61)">20</text>
<line x1="317.00" y1="603.46" x2="322.60" y2="603.46" stroke="#000" stroke-width="2.2" />
<text id="F_y40" font-size="14.455" text-anchor="end" stroke="#000" stroke-width="0.3" transform="translate(315.75,609.44)">40</text>
<line x1="317.00" y1="573.29" x2="322.60" y2="573.29" stroke="#000" stroke-width="2.2" />
<text id="F_y60" font-size="14.455" text-anchor="end" stroke="#000" stroke-width="0.3" transform="translate(315.75,579.27)">60</text>
<line x1="317.00" y1="543.12" x2="322.60" y2="543.12" stroke="#000" stroke-width="2.2" />
<text id="F_y80" font-size="14.455" text-anchor="end" stroke="#000" stroke-width="0.3" transform="translate(315.75,549.10)">80</text>
<line x1="317.00" y1="512.95" x2="322.60" y2="512.95" stroke="#000" stroke-width="2.2" />
<text id="F_y100" font-size="14.455" text-anchor="end" stroke="#000" stroke-width="0.3" transform="translate(315.75,518.93)">100</text>
<line x1="331.20" y1="663.80" x2="331.20" y2="669.30" stroke="#000" stroke-width="2.2" />
<line x1="348.50" y1="663.80" x2="348.50" y2="669.30" stroke="#000" stroke-width="2.2" />
<line x1="366.30" y1="663.80" x2="366.30" y2="669.30" stroke="#000" stroke-width="2.2" />
<line x1="331.30" y1="568.80" x2="331.30" y2="588.70" stroke="#000" stroke-width="2.0" />
<line x1="327.80" y1="568.80" x2="334.80" y2="568.80" stroke="#000" stroke-width="2.0" />
<line x1="327.80" y1="588.70" x2="334.80" y2="588.70" stroke="#000" stroke-width="2.0" />
<line x1="348.70" y1="590.60" x2="348.70" y2="608.50" stroke="#000" stroke-width="2.2" />
<line x1="343.50" y1="590.60" x2="352.50" y2="590.60" stroke="#000" stroke-width="2.2" />
<line x1="366.30" y1="596.30" x2="366.30" y2="608.50" stroke="#000" stroke-width="2.2" />
<line x1="362.00" y1="596.30" x2="370.50" y2="596.30" stroke="#000" stroke-width="2.2" />
<path d="M328.10,560.15 L328.62,562.19 L330.65,561.62 L329.15,563.10 L330.65,564.58 L328.62,564.01 L328.10,566.05 L327.57,564.01 L325.55,564.58 L327.05,563.10 L325.55,561.62 L327.57,562.19ZM335.30,560.15 L335.82,562.19 L337.85,561.62 L336.35,563.10 L337.85,564.58 L335.82,564.01 L335.30,566.05 L334.78,564.01 L332.75,564.58 L334.25,563.10 L332.75,561.62 L334.78,562.19Z" fill="#000" stroke="#000" stroke-width="0.35" stroke-linejoin="round"/>
<path d="M341.80,581.45 L342.32,583.49 L344.35,582.92 L342.85,584.40 L344.35,585.88 L342.32,585.31 L341.80,587.35 L341.28,585.31 L339.25,585.88 L340.75,584.40 L339.25,582.92 L341.28,583.49ZM349.00,581.45 L349.52,583.49 L351.55,582.92 L350.05,584.40 L351.55,585.88 L349.52,585.31 L349.00,587.35 L348.48,585.31 L346.45,585.88 L347.95,584.40 L346.45,582.92 L348.48,583.49ZM356.20,581.45 L356.72,583.49 L358.75,582.92 L357.25,584.40 L358.75,585.88 L356.72,585.31 L356.20,587.35 L355.68,585.31 L353.65,585.88 L355.15,584.40 L353.65,582.92 L355.68,583.49Z" fill="#000" stroke="#000" stroke-width="0.35" stroke-linejoin="round"/>
<path d="M363.20,587.25 L363.72,589.29 L365.75,588.73 L364.25,590.20 L365.75,591.68 L363.72,591.11 L363.20,593.15 L362.68,591.11 L360.65,591.68 L362.15,590.20 L360.65,588.73 L362.68,589.29ZM370.40,587.25 L370.93,589.29 L372.95,588.73 L371.45,590.20 L372.95,591.68 L370.93,591.11 L370.40,593.15 L369.88,591.11 L367.85,591.68 L369.35,590.20 L367.85,588.73 L369.88,589.29Z" fill="#000" stroke="#000" stroke-width="0.35" stroke-linejoin="round"/>
<text id="F_x0" font-size="14.345" text-anchor="end" stroke="#000" stroke-width="0.3" transform="translate(334.79,677.17) rotate(-45)">0.10</text>
<text id="F_x1" font-size="14.848" text-anchor="end" stroke="#000" stroke-width="0.3" transform="translate(352.24,677.68) rotate(-45)">0.25</text>
<text id="F_x2" font-size="14.873" text-anchor="end" stroke="#000" stroke-width="0.3" transform="translate(369.51,677.93) rotate(-45)">0.50</text>
<text id="F_xt" font-size="14.434" text-anchor="middle" stroke="#000" stroke-width="0.3" transform="translate(348.39,717.84)">x10<tspan font-size="0.72em" dy="-0.528em">6</tspan><tspan dy="0.38em"> cells</tspan></text>
<text id="F_yt1" font-size="14.719" text-anchor="middle" stroke="#000" stroke-width="0.3" transform="translate(264.04,585.35) rotate(-90)">% T<tspan font-size="0.72em" dy="0.417em">Reg</tspan><tspan dy="-0.300em">-induction upon</tspan></text>
<text id="F_yt2" font-size="14.592" text-anchor="middle" stroke="#000" stroke-width="0.3" transform="translate(287.60,586.72) rotate(-90)">removal of adherent PBMCs</text>
<text id="G_lab" font-size="16.500" text-anchor="start" font-weight="bold" stroke="#000" stroke-width="0.3" transform="translate(406.71,499.89)">G</text>
<line x1="453.50" y1="511.20" x2="453.50" y2="662.30" stroke="#000" stroke-width="2.2" />
<line x1="447.20" y1="662.30" x2="513.80" y2="662.30" stroke="#000" stroke-width="2.2" />
<line x1="447.20" y1="662.30" x2="453.50" y2="662.30" stroke="#000" stroke-width="2.2" />
<text id="G_y0" font-size="13.000" text-anchor="end" stroke="#000" stroke-width="0.3" transform="translate(446.81,667.64)">0</text>
<line x1="447.20" y1="612.30" x2="453.50" y2="612.30" stroke="#000" stroke-width="2.2" />
<text id="G_y1" font-size="13.000" text-anchor="end" stroke="#000" stroke-width="0.3" transform="translate(446.81,617.64)">1</text>
<line x1="447.20" y1="562.30" x2="453.50" y2="562.30" stroke="#000" stroke-width="2.2" />
<text id="G_y2" font-size="13.000" text-anchor="end" stroke="#000" stroke-width="0.3" transform="translate(446.81,567.64)">2</text>
<line x1="447.20" y1="512.30" x2="453.50" y2="512.30" stroke="#000" stroke-width="2.2" />
<text id="G_y3" font-size="13.000" text-anchor="end" stroke="#000" stroke-width="0.3" transform="translate(446.81,517.64)">3</text>
<line x1="473.50" y1="662.30" x2="473.50" y2="667.30" stroke="#000" stroke-width="2.2" />
<line x1="493.30" y1="662.30" x2="493.30" y2="667.30" stroke="#000" stroke-width="2.2" />
<line x1="453.50" y1="612.30" x2="514.20" y2="612.30" stroke="#000" stroke-width="2.0" />
<line x1="473.50" y1="551.20" x2="473.50" y2="580.00" stroke="#000" stroke-width="2.0" />
<line x1="468.50" y1="551.20" x2="478.50" y2="551.20" stroke="#000" stroke-width="2.0" />
<line x1="468.50" y1="580.00" x2="478.50" y2="580.00" stroke="#000" stroke-width="2.0" />
<line x1="493.80" y1="528.70" x2="493.80" y2="574.00" stroke="#000" stroke-width="2.0" />
<line x1="488.80" y1="528.70" x2="498.80" y2="528.70" stroke="#000" stroke-width="2.0" />
<line x1="488.80" y1="574.00" x2="498.80" y2="574.00" stroke="#000" stroke-width="2.0" />
<polyline points="453.50,612.30 473.60,565.70 493.80,551.60" stroke="#000" stroke-width="2.5" fill="none" stroke-linejoin="miter" />
<circle cx="453.50" cy="612.30" r="4.4" fill="#000" stroke="none" stroke-width="0"/>
<circle cx="473.60" cy="565.70" r="4.4" fill="#000" stroke="none" stroke-width="0"/>
<circle cx="493.80" cy="551.60" r="4.4" fill="#000" stroke="none" stroke-width="0"/>
<path d="M474.20,542.05 L474.72,544.09 L476.75,543.52 L475.25,545.00 L476.75,546.48 L474.72,545.91 L474.20,547.95 L473.68,545.91 L471.65,546.48 L473.15,545.00 L471.65,543.52 L473.68,544.09Z" fill="#000" stroke="#000" stroke-width="0.35" stroke-linejoin="round"/>
<path d="M494.60,519.75 L495.12,521.79 L497.15,521.23 L495.65,522.70 L497.15,524.18 L495.12,523.61 L494.60,525.65 L494.08,523.61 L492.05,524.18 L493.55,522.70 L492.05,521.23 L494.08,521.79Z" fill="#000" stroke="#000" stroke-width="0.35" stroke-linejoin="round"/>
<text id="G_x1" font-size="12.230" text-anchor="end" stroke="#000" stroke-width="0.3" transform="translate(475.89,678.08) rotate(-45)">5x10^4</text>
<text id="G_x2" font-size="12.223" text-anchor="end" stroke="#000" stroke-width="0.3" transform="translate(495.74,677.37) rotate(-45)">1x10^5</text>
<text id="G_xt" font-size="14.764" text-anchor="start" stroke="#000" stroke-width="0.3" transform="translate(447.64,716.98)">monocytes</text>
<text id="G_yt" font-size="14.173" text-anchor="middle" stroke="#000" stroke-width="0.3" transform="translate(418.71,583.50) rotate(-90)">T<tspan font-size="0.72em" dy="0.417em">Regs</tspan><tspan dy="-0.300em"> fold-increase</tspan></text>
</svg>
</body></html>
